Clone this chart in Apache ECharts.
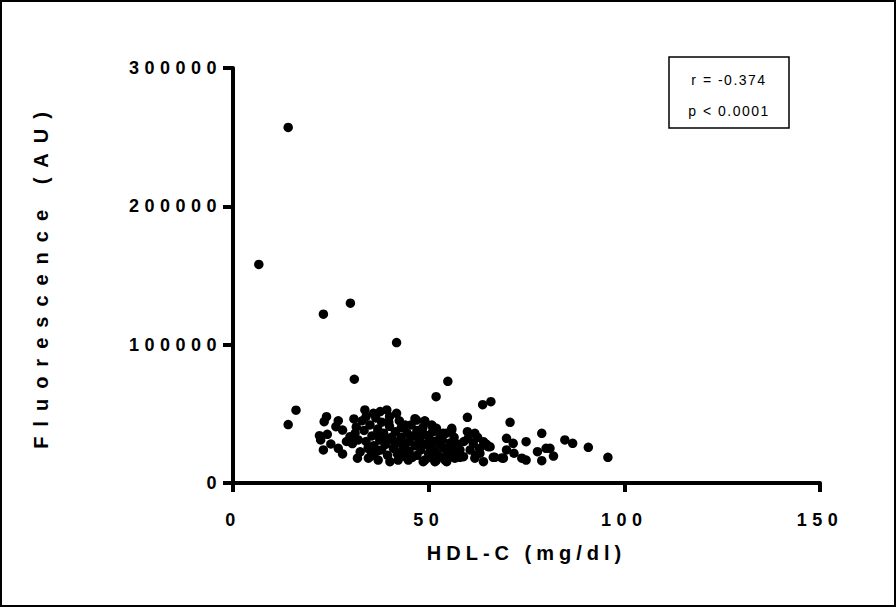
<!DOCTYPE html>
<html>
<head>
<meta charset="utf-8">
<script src="https://cdn.jsdelivr.net/npm/echarts@6/dist/echarts.min.js"></script>
<style>
html,body{margin:0;padding:0;background:#fff;}
#c{width:896px;height:607px;}
</style>
</head>
<body>
<div id="c"></div>
<script>
// HDL-C (mg/dl) values
const hdl = [
6.6,14.1,23.1,30,41.8,31,54.9,51.9,65.9,63.8,16.1,14.1,
22.1,22.4,23.1,23.3,23.9,24.1,25,26.3,26.9,26.9,28,28,29.9,30.9,31.2,32,31.8,29,30.5,31.5,32.5,
33.7,35.9,37.6,39.3,41.8,44,46.9,49,50.8,55.9,49,50.9,53.7,52.9,55.9,
34.6,37.1,40.1,42.2,44.8,48.6,51.6,54.2,56.7,49,51.9,55,54.6,58,
33,33.5,34,34.5,35,35.5,36,36,36.5,37,37.5,38,38,38.5,39,39.5,40,40,40.5,41,41.5,42,42,42.5,43,43,43.5,44,44.5,45,45,45.5,46,46.5,47,47,47.5,48,48.5,49,49.5,50,50,50.5,51,51.5,52,52.5,53,53.5,54,54.5,55,55.5,56,56.5,57,57.5,58,
34,36.8,39.8,41,44,46.5,48,43,38.7,37.2,35.2,45.8,47.8,52,50.2,
59.9,59.9,61.8,60.1,61.4,64,65.7,60.6,63.1,58.9,61.8,64,66.5,69.1,69.9,71.6,69.9,71.8,73.8,74.9,74.9,70.8,78.9,77.8,80,81,81.9,78.9,84.8,86.8,90.8,95.8,65.2,64.7,62.5,63,66.9,68.7,59,62
];
// Fluorescence (AU) values
const fluor = [
158000,257000,122000,130000,101500,75000,73500,62400,58800,56600,52600,42200,
34200,31100,23900,44300,47900,35200,28200,40700,45000,25100,38300,21000,33500,46300,35900,31100,17900,30000,28500,40500,22500,
52800,50400,51600,52800,50400,41900,45500,44300,41900,39500,45000,41200,35900,33500,38300,
17900,16600,15400,16600,16600,15400,15400,16600,17900,16600,16100,17900,15400,18600,
45000,38000,30000,25000,42000,34000,27000,21000,47000,39000,31000,24000,44000,36000,28000,20000,48000,41000,33000,25000,37000,29000,21000,45000,40000,33000,26000,19000,36000,30000,23000,42000,34000,27000,20000,38000,31000,24000,40000,35000,28000,21000,33000,25000,37000,30000,22000,28000,19000,31000,25000,36000,22000,29000,26000,33000,21000,28000,24000,
48000,35500,44000,30500,28000,46500,29000,22500,31500,23500,19500,18600,34500,39500,18500,
47500,37100,35900,32300,28700,29900,26200,23900,21500,19000,17900,15400,18600,17900,32300,28700,23900,21500,17900,16600,29900,43900,35900,22600,25100,25100,19500,16100,31100,28700,25800,18600,26200,28200,33000,25000,18600,18100,30000,20000
];
const xTicks = [0, 50, 100, 150];
const yTicks = [0, 100000, 200000, 300000];
const xTitle = 'HDL-C (mg/dl)';
const yTitle = 'Fluorescence (AU)';
const statLines = ['r = -0.374', 'p < 0.0001'];

const points = hdl.map((x, i) => [x, fluor[i]]);

const chart = echarts.init(document.getElementById('c'), null, {renderer: 'svg'});
const axisFont = {color: '#000', fontFamily: 'Liberation Sans, Arial, sans-serif', fontWeight: 'bold', fontSize: 18};
chart.setOption({
  animation: false,
  backgroundColor: '#fff',
  grid: {left: 233, right: 76, top: 68, bottom: 124, containLabel: false},
  xAxis: {
    type: 'value', min: xTicks[0], max: xTicks[xTicks.length - 1], interval: 50,
    name: xTitle, nameLocation: 'middle', nameGap: 60,
    nameTextStyle: Object.assign({}, axisFont, {fontSize: 20}),
    axisLine: {show: true, onZero: false, lineStyle: {color: '#000', width: 4}},
    axisTick: {show: true, length: 9, lineStyle: {color: '#000', width: 4}},
    axisLabel: Object.assign({margin: 28, formatter: v => String(v)}, axisFont),
    splitLine: {show: false}
  },
  yAxis: {
    type: 'value', min: yTicks[0], max: yTicks[yTicks.length - 1], interval: 100000,
    name: yTitle, nameLocation: 'middle', nameGap: 182, nameRotate: 90,
    nameTextStyle: Object.assign({}, axisFont, {fontSize: 20}),
    axisLine: {show: true, onZero: false, lineStyle: {color: '#000', width: 4}},
    axisTick: {show: true, length: 10, lineStyle: {color: '#000', width: 4}},
    axisLabel: Object.assign({margin: 11, formatter: v => String(v)}, axisFont),
    splitLine: {show: false}
  },
  series: [{
    type: 'scatter', data: points, symbol: 'circle', symbolSize: 9.5,
    itemStyle: {color: '#000', opacity: 1}, emphasis: {disabled: true}
  }],
  graphic: [
    {type: 'rect', shape: {x: 1, y: 1, width: 894, height: 605},
     style: {fill: 'none', stroke: '#000', lineWidth: 2}, silent: true, z: 20},
    {type: 'rect', shape: {x: 669, y: 57, width: 120, height: 71},
     style: {fill: '#fff', stroke: '#000', lineWidth: 1.5}, silent: true, z: 10},
    {type: 'text', x: 729, y: 80, z: 11, style: {text: statLines[0], align: 'center', verticalAlign: 'middle',
      font: '14px Liberation Sans, Arial, sans-serif', fill: '#000'}},
    {type: 'text', x: 729, y: 111, z: 11, style: {text: statLines[1], align: 'center', verticalAlign: 'middle',
      font: '14px Liberation Sans, Arial, sans-serif', fill: '#000'}}
  ]
});

function applySpacing() {
  document.querySelectorAll('#c svg text').forEach(t => {
    const s = t.textContent;
    let ls = '1.5px';
    if (s === yTitle) ls = '10px';
    else if (s === xTitle) ls = '5px';
    else if (/^\d+$/.test(s)) ls = '5.5px';
    t.style.letterSpacing = ls;
  });
}
applySpacing();
chart.on('finished', applySpacing);
</script>
</body>
</html>
